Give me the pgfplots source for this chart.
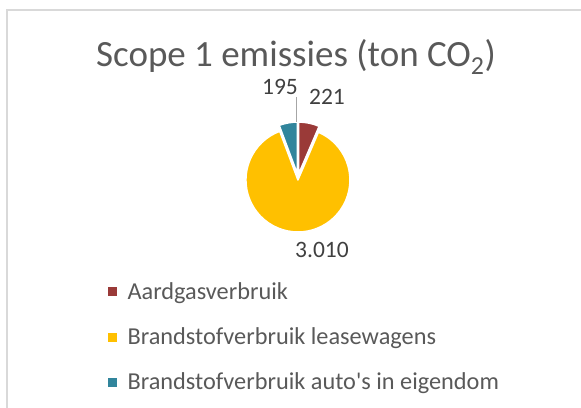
\documentclass[border=0pt]{standalone}
\usepackage{pgfplots}
\pgfplotsset{compat=1.18}
\usepackage{pgfplotstable}
\usepackage{fontspec}
\setmainfont{Carlito}

\definecolor{gasred}{HTML}{9A3A38}
\definecolor{leasegold}{HTML}{FFC000}
\definecolor{ownteal}{HTML}{31859C}
\definecolor{txtgrey}{HTML}{595959}
\definecolor{lblgrey}{HTML}{404040}
\definecolor{framegrey}{HTML}{D9D9D9}
\definecolor{leadgrey}{HTML}{A6A6A6}

% scope 1 emissies, ton CO2
\pgfplotstableread{
value
221
3010
195
}\piedata

\begin{document}
\begin{tikzpicture}
\pgfplotstablegetelem{0}{value}\of\piedata \edef\va{\pgfplotsretval}
\pgfplotstablegetelem{1}{value}\of\piedata \edef\vb{\pgfplotsretval}
\pgfplotstablegetelem{2}{value}\of\piedata \edef\vc{\pgfplotsretval}
\pgfmathsetmacro{\tot}{\va+\vb+\vc}
% angles, clockwise from 12 o'clock
\pgfmathsetmacro{\aA}{90}
\pgfmathsetmacro{\aB}{\aA-360*(\va/\tot)}
\pgfmathsetmacro{\aC}{\aB-360*(\vb/\tot)}
\pgfmathsetmacro{\aD}{\aC-360*(\vc/\tot)}
% exploded centres
\def\cx{298}\def\cy{230}\def\rr{52}\def\ex{3}
\pgfmathsetmacro{\xA}{\cx+\ex*cos((\aA+\aB)/2)}\pgfmathsetmacro{\yA}{\cy+\ex*sin((\aA+\aB)/2)}
\pgfmathsetmacro{\xB}{\cx+\ex*cos((\aB+\aC)/2)}\pgfmathsetmacro{\yB}{\cy+\ex*sin((\aB+\aC)/2)}
\pgfmathsetmacro{\xC}{\cx+\ex*cos((\aC+\aD)/2)}\pgfmathsetmacro{\yC}{\cy+\ex*sin((\aC+\aD)/2)}
\begin{axis}[
  x=1pt, y=1pt,
  xmin=0, xmax=581, ymin=0, ymax=407,
  scale only axis, hide axis, clip=false,
  legend style={at={(axis cs:108,127)}, anchor=north west,
    draw=none, fill=none, inner sep=0pt,
    font=\fontsize{24.3}{29}\selectfont, text=txtgrey,
    row sep=23pt, cells={anchor=west},
    /tikz/every odd column/.append style={column sep=9pt}},
  legend image code/.code={\fill[#1] (0pt,-4pt) rectangle (8pt,4pt);},
]
\addlegendimage{gasred}
\addlegendentry{Aardgasverbruik}
\addlegendimage{leasegold}
\addlegendentry{Brandstofverbruik leasewagens}
\addlegendimage{ownteal}
\addlegendentry{Brandstofverbruik auto\textquotesingle s in eigendom}

\draw[framegrey, line width=2pt] (axis cs:7,-5) -- (axis cs:7,396.5) -- (axis cs:590,396.5);

\fill[gasred, draw=white, line width=1.5pt, line join=round] (axis cs:\xA,\yA) -- ++(\aA:\rr pt) arc[start angle=\aA, end angle=\aB, radius=\rr pt] -- cycle;
\fill[leasegold, draw=white, line width=1.5pt, line join=round] (axis cs:\xB,\yB) -- ++(\aB:\rr pt) arc[start angle=\aB, end angle=\aC, radius=\rr pt] -- cycle;
\fill[ownteal, draw=white, line width=1.5pt, line join=round] (axis cs:\xC,\yC) -- ++(\aC:\rr pt) arc[start angle=\aC, end angle=\aD, radius=\rr pt] -- cycle;

\draw[leadgrey, line width=1pt] (axis cs:296,310) -- (axis cs:296,285);

\node[font=\fontsize{37}{42}\selectfont, text=txtgrey] at (axis cs:296,350) {Scope 1 emissies (ton CO\textsubscript{2})};
\node[font=\fontsize{23.5}{28}\selectfont, text=lblgrey, anchor=base] at (axis cs:327,302) {221};
\node[font=\fontsize{23.5}{28}\selectfont, text=lblgrey, anchor=base] at (axis cs:280,312) {195};
\node[font=\fontsize{23.5}{28}\selectfont, text=lblgrey, anchor=base] at (axis cs:322,149) {3.010};
\end{axis}
\pgfresetboundingbox
\path[use as bounding box] (0,0) rectangle (581pt,407pt);
\end{tikzpicture}
\end{document}
